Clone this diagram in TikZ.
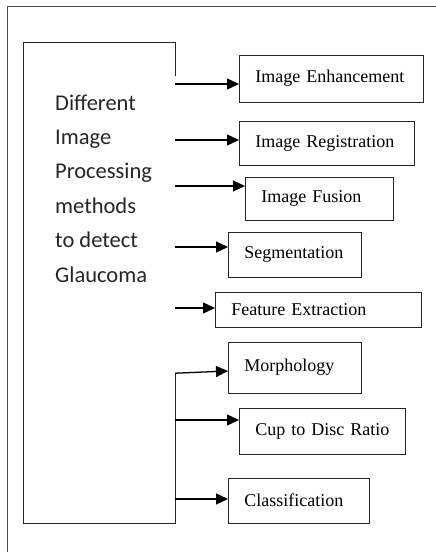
\documentclass[tikz,border=0pt]{standalone}
\usepackage{fontspec}
\setmainfont{Liberation Serif}
\newfontfamily\methodsfont{Carlito}
\usetikzlibrary{arrows.meta}
\tikzset{
	procbox/.style={draw=black!85, line width=0.8pt, anchor=west, align=left, inner xsep=16pt, inner ysep=0pt, font=\fontsize{18}{20}\selectfont},
	arrow/.style={line width=1.3pt, -{Triangle[length=12pt,width=11pt]}}
}
\begin{document}
\begin{tikzpicture}[x=1pt,y=-1pt]
	\useasboundingbox (0,0) rectangle (436,552);
	% outer frame
	\draw[black!70, line width=0.9pt] (436,6) -- (7,6) -- (7,552);
	% main box
	\node[minimum width=151pt, minimum height=480pt, inner sep=0pt] (methods) at (99.5,283) {};
	\draw[black!85, line width=0.8pt] ([yshift=-33pt]methods.north east) -- (methods.north east) -- (methods.north west)
		-- (methods.south west) -- (methods.south east) -- ([yshift=150pt]methods.south east) coordinate (branch);
	% base of the last line
	\node[anchor=base west, align=left, inner sep=0pt, text=black!85, font=\methodsfont\fontsize{22.5}{34.4}\selectfont] (title) at (55,282)
		{Different\\Image\\Processing\\methods\\to detect\\Glaucoma};
	% method boxes
	\node[procbox, text width=152pt, minimum height=47pt] (enh) at (239,78.5) {Image Enhancement};
	\node[procbox, text width=143pt, minimum height=44pt] (reg) at (239,143) {Image Registration};
	\node[procbox, text width=116pt, minimum height=43pt] (fus) at (245,198.5) {Image Fusion};
	\node[procbox, text width=101pt, minimum height=45pt] (seg) at (228,254.5) {Segmentation};
	\node[procbox, text width=174pt, minimum height=35pt] (feat) at (215,309.5) {Feature Extraction};
	\node[procbox, text width=101pt, minimum height=51pt] (morph) at (228,367.5) {Morphology};
	\node[procbox, text width=134pt, minimum height=46pt] (cup) at (239,431) {Cup to Disc Ratio};
	\node[procbox, text width=109pt, minimum height=45pt] (cls) at (228,500.5) {Classification};
	% arrows
	\foreach \n/\y in {enh/84, reg/140, fus/186, seg/247, feat/308, cup/420, cls/499}
		\draw[arrow] (methods.east |- 0,\y) -- (\n.west |- 0,\y);
	\draw[arrow] (branch) -- (morph.west |- 0,371);
\end{tikzpicture}
\end{document}
